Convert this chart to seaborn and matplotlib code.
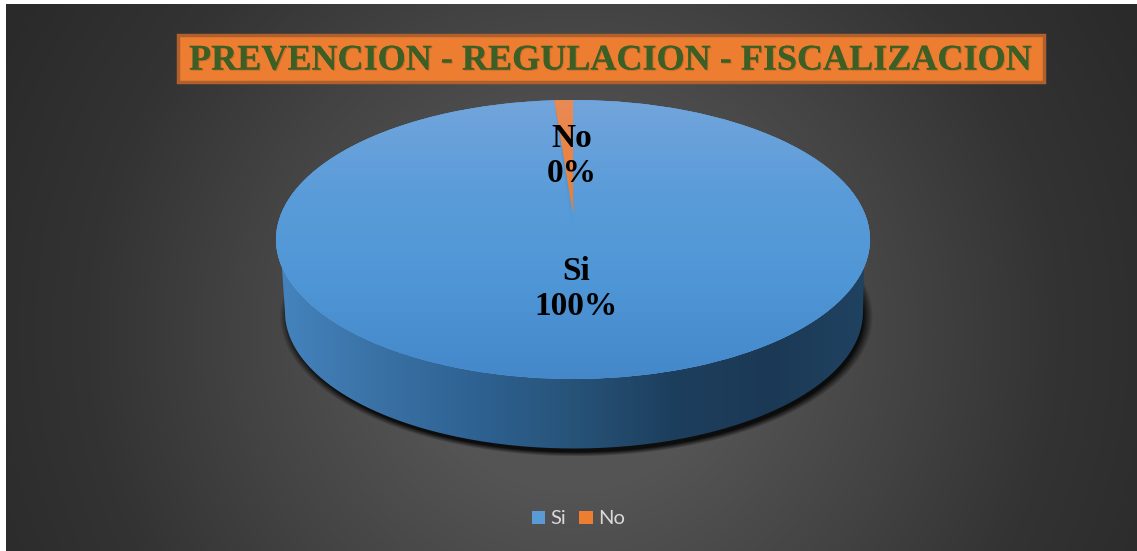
import numpy as np
import seaborn as sns
from matplotlib import pyplot as plt
from matplotlib import patheffects as pe
from matplotlib.patches import Ellipse, Rectangle, PathPatch
from matplotlib.path import Path
from matplotlib.transforms import Affine2D

categories = ["Si", "No"]
values = [99.0, 1.0]
shown_percent = ["100%", "0%"]
title = "PREVENCION - REGULACION - FISCALIZACION"

W, H = 1137, 551
cx, cy, rx, ry = 573, 239.5, 297, 139.5

sns.set_theme(style="white")
plt.rcParams["font.family"] = ["Liberation Serif", "DejaVu Serif"]

fig = plt.figure(figsize=(W / 100, H / 100), dpi=100, facecolor="white")

# background + 3d side of the pie, in pixel coordinates
bg = fig.add_axes([0, 0, 1, 1])
bg.set_xlim(0, W)
bg.set_ylim(H, 0)
bg.axis("off")

xx, yy = np.meshgrid(np.arange(W), np.arange(H))
d = np.sqrt((xx - 570) ** 2 + (yy - 330) ** 2) / 520
bg_cmap = sns.blend_palette(["#585858", "#545454", "#444444", "#333333", "#2a2a2a"], as_cmap=True)
bg_im = bg.imshow(d, cmap=bg_cmap, extent=(6, W, H, 4), aspect="auto", vmin=0, vmax=1.25, zorder=0)

# soft shadow under the pie
sd = np.sqrt(((xx - 576) / 288) ** 2 + ((yy - 316) / 136) ** 2)
shadow = np.zeros((H, W, 4))
shadow[..., 3] = np.clip((1.03 - sd) / 0.035, 0, 1) * 0.85
bg.imshow(shadow, extent=(0, W, H, 0), aspect="auto", zorder=1)

# side wall
t_top = np.linspace(0.2, np.pi - 0.2, 200)
t_low = np.linspace(np.pi, 0, 200)
verts = np.column_stack([np.r_[cx + rx * np.cos(t_top), 574 + 289 * np.cos(t_low)],
                         np.r_[cy + ry * np.sin(t_top), 312 + 136.5 * np.sin(t_low)]])
wall = PathPatch(Path(np.vstack([verts, verts[0]])), facecolor="none", edgecolor="none", zorder=2)
bg.add_patch(wall)
wall_cmap = sns.blend_palette(["#4584bf", "#3a72a5", "#2e6293", "#275378", "#1d3f5e", "#1b3955", "#204362"],
                              as_cmap=True)
wall_im = bg.imshow(np.linspace(0, 1, 600).reshape(1, -1), cmap=wall_cmap,
                    extent=(276, 871, 450, 230), aspect="auto", zorder=2)
wall_im.set_clip_path(wall)

# title box
bg.add_patch(Rectangle((178, 35), 866, 47, facecolor="#ed7d31", edgecolor="#b0602c", linewidth=2.5, zorder=3))
bg.text(610.5, 61, title, ha="center", va="center", color="#3c5f25", fontsize=26, fontweight="bold", zorder=4,
        path_effects=[pe.withSimplePatchShadow(offset=(0.8, -0.8), shadow_rgbFace="#a85a22", alpha=0.5),
                      pe.Normal()])

# pie top, squashed to an ellipse
ax = fig.add_axes([(cx - rx) / W, 1 - (cy + ry) / H, 2 * rx / W, 2 * ry / H])
ax.patch.set_alpha(0)
wedges, _ = ax.pie(values, startangle=90, counterclock=False, radius=1,
                   colors=["#5b9bd5", "#ed7d31"], wedgeprops={"linewidth": 0})
ax.add_patch(Ellipse((0, 0), 2, 2, facecolor="#5299d8", edgecolor="none", zorder=1))

# perspective: the tip of the thin slice stops above the centre of the ellipse
k = 0.81
wedges[1].set_transform(Affine2D().scale(1, k).translate(0, 1 - k) + ax.transData)

top_cmaps = [sns.blend_palette(["#72a5dc", "#5a9cd9", "#4f96d6", "#4488ca"], as_cmap=True),
             sns.blend_palette(["#e98a55", "#ed7d31", "#e8741e"], as_cmap=True)]
extents = [(-1, 1, -1, 1), (-1, 1, 1 - 2 * k, 1)]
for w, cmap, z, ext in zip(wedges, top_cmaps, [2, 3], extents):
    w.set_zorder(z)
    im = ax.imshow(np.linspace(0, 1, 300).reshape(-1, 1), cmap=cmap, extent=ext,
                   aspect="auto", zorder=z + 0.5, origin="upper")
    im.set_clip_path(w)
ax.set_aspect("auto")
ax.set_xlim(-1, 1)
ax.set_ylim(-1, 1)

# data labels
label_pos = [(576, 289), (572, 156)]
for cat, pct, (px, py) in zip(categories, shown_percent, label_pos):
    ax.text((px - cx) / rx, (cy - py) / ry, f"{cat}\n{pct}", ha="center", va="center", color="black",
            fontsize=24, fontweight="bold", linespacing=1.19, zorder=6)

fig.legend(wedges, categories, loc="center", bbox_to_anchor=(578.5 / W, 1 - 519 / H), ncol=2, frameon=False,
           handlelength=0.65, handleheight=0.65, handletextpad=0.3, columnspacing=0.65,
           prop={"family": "Lato", "size": 14.5}, labelcolor="#d9d9d9")

fig.savefig("out.png", dpi=100)
